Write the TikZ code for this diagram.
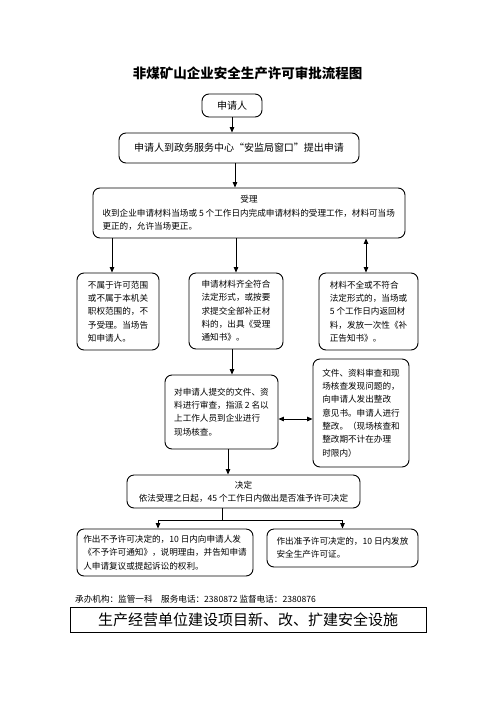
\documentclass[tikz,border=0pt]{standalone}
\usepackage{fontspec}
\setmainfont{Noto Sans CJK SC}
\usetikzlibrary{arrows.meta,calc}
\begin{document}
\begin{tikzpicture}[x=1pt,y=-1pt,
  box/.style={draw, line width=0.9pt, rounded corners=7pt, inner sep=0pt, align=left,
    font=\fontsize{8.6}{13.3}\selectfont},
  arr/.style={-{Triangle[length=5.5pt,width=4.5pt]}, line width=0.9pt},
  darr/.style={{Triangle[length=5.5pt,width=4.5pt]}-{Triangle[length=5.5pt,width=4.5pt]}, line width=0.9pt}]
\useasboundingbox[fill=white] (0,0) rectangle (496,702);

\node[font=\fontsize{13.5}{16}\selectfont\bfseries] (title) at (247.5,73) {非煤矿山企业安全生产许可审批流程图};

\node[box, minimum width=60pt, minimum height=23pt, font=\fontsize{10}{12}\selectfont] (applicant) at (232,105.5) {申请人};
\node[box, minimum width=240pt, minimum height=30pt, font=\fontsize{10}{12}\selectfont] (apply) at (239,148) {申请人到政务服务中心“安监局窗口”提出申请};

\node[box, minimum width=312pt, minimum height=50pt] (shouli) at (249,213)
  {\makebox[293pt]{受理}\\\mbox{收到企业申请材料当场或 5 个工作日内完成申请材料的受理工作，材料可当场}\\更正的，允许当场更正。};

\node[box, minimum width=82pt, minimum height=77pt] (left) at (118,311.5)
  {不属于许可范围\\或不属于本机关\\职权范围的，不\\予受理。当场告\\知申请人。};
\node[box, minimum width=94pt, minimum height=76pt] (mid) at (236,311)
  {申请材料齐全符合\\法定形式，或按要\\求提交全部补正材\\料的，出具《受理\\通知书》。};
\node[box, minimum width=99pt, minimum height=77pt] (right) at (368.5,311.5)
  {材料不全或不符合\\法定形式的，当场或\\5 个工作日内返回材\\料，发放一次性《补\\正告知书》。};

\node[box, minimum width=113pt, minimum height=74pt] (check) at (221.5,412)
  {对申请人提交的文件、资\\料进行审查，指派 2 名以\\上工作人员到企业进行\\现场核查。};
\node[box, minimum width=96pt, minimum height=108pt] (fix) at (361,413)
  {文件、资料审查和现\\场核查发现问题的，\\向申请人发出整改\\意见书。申请人进行\\整改。（现场核查和\\整改期不计在办理\\时限内）};

\node[box, minimum width=233pt, minimum height=33pt, align=center] (decide) at (243.5,491.5)
  {决定\\依法受理之日起，45 个工作日内做出是否准予许可决定};

\node[box, minimum width=176pt, minimum height=47pt] (no) at (165,552.5)
  {作出不予许可决定的，10 日内向申请人发\\《不予许可通知》，说明理由，并告知申请\\人申请复议或提起诉讼的权利。};
\node[box, minimum width=151pt, minimum height=38pt] (yes) at (342.5,548)
  {作出准予许可决定的，10 日内发放\\安全生产许可证。};

\node[anchor=west, inner sep=0pt, font=\fontsize{8.6}{10}\selectfont] (org) at (75,599)
  {承办机构：监管一科\quad 服务电话：2380872 监督电话：2380876};
\node[draw, line width=0.9pt, minimum width=356pt, minimum height=25pt, inner sep=0pt,
  font=\fontsize{15}{17}\selectfont] (footbox) at (248,619.5) {生产经营单位建设项目新、改、扩建安全设施};

% connectors
\draw[arr] (applicant.south) -- (applicant.south |- apply.north);
\draw[arr] ([xshift=-4pt]apply.south) -- ([xshift=-4pt]apply.south |- shouli.north);
\draw[arr] ([xshift=-6pt]left.north |- shouli.south) -- ([xshift=-6pt]left.north);
\draw[arr] (mid.north |- shouli.south) -- (mid.north);
\draw[darr] ([xshift=-2.5pt]right.north |- shouli.south) -- ([xshift=-2.5pt]right.north);
\draw[arr] ([xshift=-4pt]mid.south) -- ([xshift=-4pt]mid.south |- check.north);
\draw[darr] ([yshift=-7pt]check.east) -- ([yshift=-7pt]check.east -| fix.west);
\draw[arr] ([xshift=6.5pt]check.south) -- ([xshift=6.5pt]check.south |- decide.north);
\coordinate (split) at (222,520);
\draw[line width=0.9pt] (split |- decide.south) -- (split);
\draw[arr] (split) -| ([xshift=-7pt]no.north);
\draw[arr] (split) -| (yes.north);
\end{tikzpicture}
\end{document}
